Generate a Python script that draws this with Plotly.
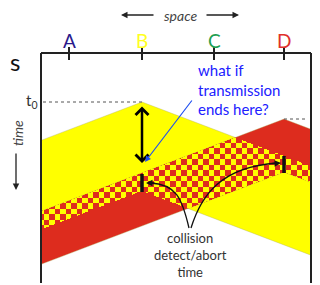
import numpy as np
import plotly.graph_objects as go

# ---------------- data ----------------
stations = ["A", "B", "C", "D"]
station_pos = [69, 142, 214, 284]          # position along the cable (space units)
station_colors = ["#2a1a8c", "#ffff22", "#1e9e50", "#e0302a"]

tx_station = ["B", "D"]                    # transmitting stations
tx_start = [102, 119]                      # start times
tx_stop = [191, 172]                       # stop (abort) times
tx_colors = ["#ffff00", "#dd2c1e"]
prop_slope = 0.38                          # time per unit of distance

space_range = [41, 311]                    # extent of the cable
time_range = [53, 283]                     # extent of the time axis

FONT = "Lato"
PAGE_OFFSET = 8   # the page body margin; the view is shifted to compensate

fig = go.Figure()

xs_lo, xs_hi = space_range
pos = dict(zip(stations, station_pos))


def front(x0, t0, x):
    return t0 + prop_slope * np.abs(np.asarray(x, dtype=float) - x0)


def band_path(x0, t_a, t_b):
    pts = [(xs_lo, front(x0, t_a, xs_lo)), (x0, t_a), (xs_hi, front(x0, t_a, xs_hi)),
           (xs_hi, front(x0, t_b, xs_hi)), (x0, t_b), (xs_lo, front(x0, t_b, xs_lo))]
    return "M " + " L ".join(f"{px:.2f},{py:.2f}" for px, py in pts) + " Z"


shapes = []
for st, t_a, t_b, col in zip(tx_station, tx_start, tx_stop, tx_colors):
    shapes.append(dict(type="path", path=band_path(pos[st], t_a, t_b), xref="x", yref="y",
                       fillcolor=col, line=dict(color="rgba(170,170,90,0.6)", width=0.6),
                       layer="below"))

# checkerboard where the two transmissions overlap
cell = 5.5
gx = np.arange(xs_lo, xs_hi) + 0.5
gy = np.arange(90, 285) + 0.5
X, Y = np.meshgrid(gx, gy)
(xb, xd) = pos[tx_station[0]], pos[tx_station[1]]
up = np.maximum(front(xb, tx_start[0], X), front(xd, tx_start[1], X))
lo = np.minimum(front(xb, tx_stop[0], X), front(xd, tx_stop[1], X))
inside = (Y > up) & (Y < lo)
chk = ((np.floor(X / cell) + np.floor(Y / cell)) % 2).astype(float)
z = np.where(inside, chk, np.nan)
fig.add_trace(go.Heatmap(x=gx, y=gy, z=z, zmin=0, zmax=1, showscale=False,
                         colorscale=[[0, tx_colors[1]], [0.5, tx_colors[1]],
                                     [0.5, tx_colors[0]], [1, tx_colors[0]]],
                         hoverinfo="skip", zsmooth=False))

# frame
frame_col = "#222222"
shapes.append(dict(type="line", x0=xs_lo, x1=xs_hi, y0=time_range[0], y1=time_range[0],
                   xref="x", yref="y", line=dict(color=frame_col, width=2)))
for xv in (xs_lo, xs_hi):
    shapes.append(dict(type="line", x0=xv, x1=xv, y0=time_range[0], y1=time_range[1],
                       xref="x", yref="y", line=dict(color=frame_col, width=2)))

annotations = []
# station ticks and labels
for name, xv, col in zip(stations, station_pos, station_colors):
    shapes.append(dict(type="line", x0=xv, x1=xv, y0=time_range[0] - 6, y1=time_range[0] + 7,
                       xref="x", yref="y", line=dict(color=frame_col, width=2)))
    annotations.append(dict(x=xv, y=time_range[0] - 13, text=name, showarrow=False,
                            font=dict(family=FONT, size=19, color=col), yanchor="middle"))

# start-time dotted lines
shapes.append(dict(type="line", x0=xs_lo + 2, x1=pos["B"], y0=tx_start[0], y1=tx_start[0],
                   xref="x", yref="y", line=dict(color="#555", width=1, dash="dot")))
shapes.append(dict(type="line", x0=pos["D"], x1=xs_hi - 3, y0=tx_start[1], y1=tx_start[1],
                   xref="x", yref="y", line=dict(color="#555", width=1, dash="dot")))
annotations.append(dict(x=31, y=tx_start[0] - 1, text="t<sub>0</sub>", showarrow=False,
                        font=dict(family=FONT, size=15, color="#333"), xanchor="center"))
annotations.append(dict(x=313, y=tx_start[1] + 1, text="t", showarrow=False,
                        font=dict(family=FONT, size=15, color="#333"), xanchor="left"))

# collision-detect bars
det_B = tx_start[1] + prop_slope * abs(pos["D"] - pos["B"])
det_D = tx_start[0] + prop_slope * abs(pos["D"] - pos["B"])
shapes.append(dict(type="line", x0=pos["B"], x1=pos["B"], y0=det_B + 1, y1=tx_stop[0] + 1,
                   xref="x", yref="y", line=dict(color="#111", width=3.5)))
shapes.append(dict(type="line", x0=pos["D"], x1=pos["D"], y0=det_D, y1=tx_stop[1] + 1,
                   xref="x", yref="y", line=dict(color="#111", width=3.5)))

# curved pointers from the caption
shapes.append(dict(type="path", path="M 189,228 C 182,198 176,184 150,183",
                   xref="x", yref="y", line=dict(color="#111", width=1.3)))
shapes.append(dict(type="path", path="M 191,228 C 201,196 220,167 277,163",
                   xref="x", yref="y", line=dict(color="#111", width=1.3)))
annotations.append(dict(x=146, y=183, ax=156, ay=183, axref="x", ayref="y", xref="x", yref="y",
                        text="", showarrow=True, arrowhead=2, arrowsize=1, arrowwidth=1.3,
                        arrowcolor="#111"))
annotations.append(dict(x=281, y=163, ax=271, ay=163.6, axref="x", ayref="y", xref="x", yref="y",
                        text="", showarrow=True, arrowhead=2, arrowsize=1, arrowwidth=1.3,
                        arrowcolor="#111"))
annotations.append(dict(x=190, y=255, text="collision<br>detect/abort<br>time", showarrow=False,
                        font=dict(family=FONT, size=13, color="#333"), align="center"))

# double arrow at B
annotations.append(dict(x=pos["B"], y=163, ax=pos["B"], ay=105, axref="x", ayref="y",
                        xref="x", yref="y", text="", showarrow=True, arrowhead=4,
                        startarrowhead=4, arrowside="end+start", arrowsize=1, startarrowsize=1,
                        arrowwidth=2.5, arrowcolor="#000"))

# blue question
annotations.append(dict(x=196, y=89, text="what if<br>transmission<br>ends here?", showarrow=False,
                        xanchor="left", align="left",
                        font=dict(family=FONT, size=15, color="#2020ff")))
annotations.append(dict(x=145, y=162, ax=193, ay=99, axref="x", ayref="y", xref="x", yref="y",
                        text="", showarrow=True, arrowhead=2, arrowsize=1, arrowwidth=1.2,
                        arrowcolor="#2050f0"))

# axis captions
annotations.append(dict(x=180, y=15, text="<i>space</i>", showarrow=False,
                        font=dict(family=FONT, size=14, color="#444")))
annotations.append(dict(x=121, y=15, ax=155, ay=15, axref="x", ayref="y", xref="x", yref="y",
                        text="", showarrow=True, arrowhead=2, arrowsize=1, arrowwidth=1.3,
                        arrowcolor="#222"))
annotations.append(dict(x=239, y=15, ax=205, ay=15, axref="x", ayref="y", xref="x", yref="y",
                        text="", showarrow=True, arrowhead=2, arrowsize=1, arrowwidth=1.3,
                        arrowcolor="#222"))
annotations.append(dict(x=17, y=133, text="<i>time</i>", showarrow=False, textangle=-90,
                        font=dict(family=FONT, size=14, color="#444")))
annotations.append(dict(x=16, y=190, ax=16, ay=152, axref="x", ayref="y", xref="x", yref="y",
                        text="", showarrow=True, arrowhead=2, arrowsize=1, arrowwidth=1.3,
                        arrowcolor="#222"))
annotations.append(dict(x=PAGE_OFFSET, y=61, text="s", showarrow=False, xanchor="left",
                        font=dict(family=FONT, size=24, color="#111")))

W, H = 320, 285
fig.update_layout(
    width=W - PAGE_OFFSET, height=H - PAGE_OFFSET, margin=dict(l=0, r=0, t=0, b=0),
    paper_bgcolor="white", plot_bgcolor="white", showlegend=False,
    xaxis=dict(range=[PAGE_OFFSET, W], visible=False, fixedrange=True),
    yaxis=dict(range=[H, PAGE_OFFSET], visible=False, fixedrange=True),
    shapes=shapes, annotations=annotations,
)

fig.write_html("out.html")
